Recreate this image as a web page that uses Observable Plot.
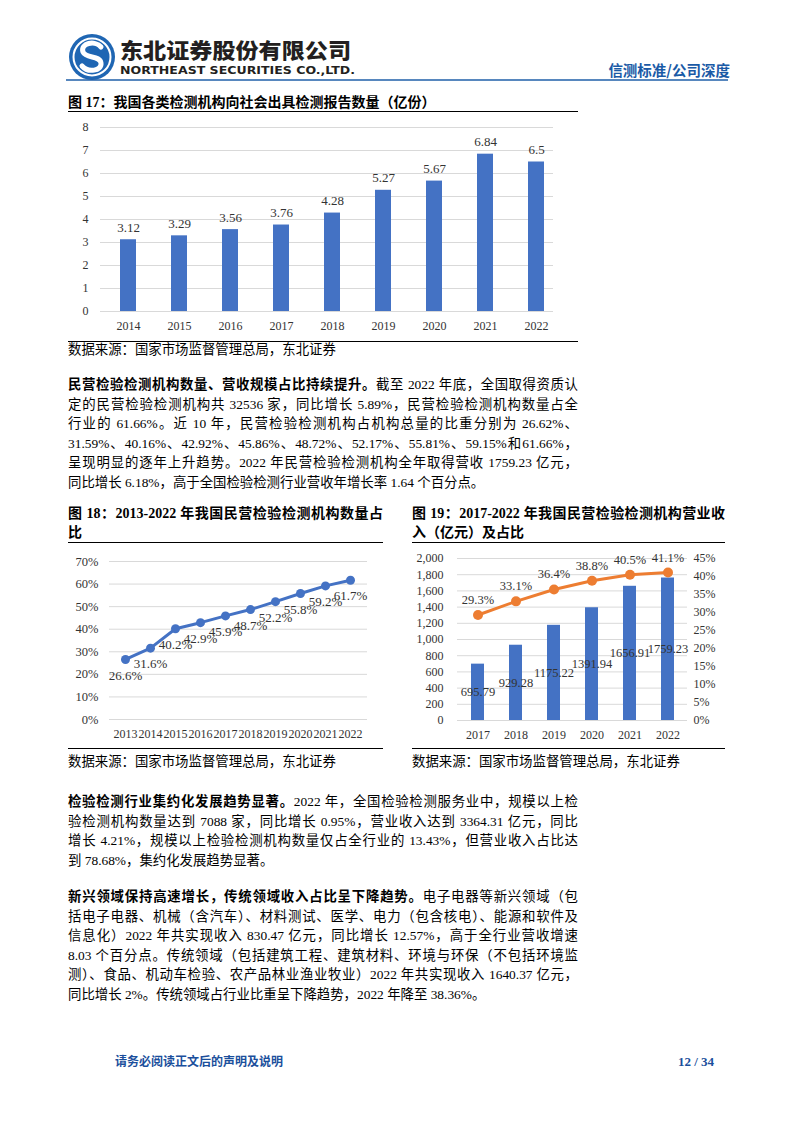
<!DOCTYPE html>
<html lang="zh-CN">
<head>
<meta charset="utf-8">
<script src="https://cdn.jsdelivr.net/npm/d3@7"></script>
<script src="https://cdn.jsdelivr.net/npm/@observablehq/plot@0.6"></script>
<style>
  html, body { margin: 0; padding: 0; background: #fff; }
  #page { position: relative; width: 794px; height: 1123px; overflow: hidden; background: #fff;
          font-family: "Liberation Serif", "Noto Sans CJK SC", serif; color: #000; }
  .abs { position: absolute; }
  .ln { position: absolute; font-size: 13.4px; line-height: 20px; height: 20px; }
  .just { text-align: justify; text-align-last: justify; text-justify: inter-character; }
  .bd { font-family: "Liberation Serif", "Noto Sans CJK SC"; font-weight: 700; }
  .rule { position: absolute; height: 0; border-top: 1px solid #000; }
  .chart { position: absolute; }
</style>
</head>
<body>
<div id="page">
  <svg class="abs" style="left:0;top:0" width="794" height="95">
    <circle cx="92" cy="57" r="23" fill="#1f66b3"/>
    <circle cx="92" cy="57" r="18.5" fill="none" stroke="#fff" stroke-width="2"/>
    <path d="M101 47 C 95 40, 80 43, 83 52 C 86 59, 100 55, 101 63 C 102 71, 88 73, 82 66" fill="none" stroke="#fff" stroke-width="5" stroke-linecap="round"/>
    <text x="120" y="58" font-family="Noto Sans CJK SC" font-weight="900" font-size="21" textLength="231" lengthAdjust="spacingAndGlyphs" fill="#231f20">东北证券股份有限公司</text>
    <text x="120" y="73.5" font-family="DejaVu Sans" font-weight="bold" font-size="10.5" textLength="235" lengthAdjust="spacingAndGlyphs" fill="#231f20">NORTHEAST SECURITIES CO.,LTD.</text>
    <line x1="66" y1="80" x2="728" y2="80" stroke="#1f5fa8" stroke-width="1.5"/>
    <text x="730" y="76" text-anchor="end" font-family="Noto Sans CJK SC" font-weight="700" font-size="14.5" fill="#1a5aa6">信测标准/公司深度</text>
    <line x1="66" y1="1052" x2="727" y2="1052" stroke="#1f5fa8" stroke-width="1.5"/>
  </svg>
</div>
<script>
// ---------------- DATA ----------------
const years17 = ["2014","2015","2016","2017","2018","2019","2020","2021","2022"];
const reports17 = [3.12, 3.29, 3.56, 3.76, 4.28, 5.27, 5.67, 6.84, 6.5];
const yTicks17 = [0,1,2,3,4,5,6,7,8];

const years18 = ["2013","2014","2015","2016","2017","2018","2019","2020","2021","2022"];
const share18 = [0.266, 0.316, 0.402, 0.429, 0.459, 0.487, 0.522, 0.558, 0.592, 0.617];
const yTicks18 = [0, 0.1, 0.2, 0.3, 0.4, 0.5, 0.6, 0.7];

const years19 = ["2017","2018","2019","2020","2021","2022"];
const revenue19 = [695.79, 929.28, 1175.22, 1391.94, 1656.91, 1759.23];
const share19 = [0.293, 0.331, 0.364, 0.388, 0.405, 0.411];
const yTicks19 = [0,200,400,600,800,1000,1200,1400,1600,1800,2000];
const pctTicks19 = [0,0.05,0.10,0.15,0.20,0.25,0.30,0.35,0.40,0.45];
const pctMax19 = 0.45, revMax19 = 2000;

// ---------------- TEXT ----------------
const title17 = "图 17：我国各类检测机构向社会出具检测报告数量（亿份）";
const title18 = ["图 18：2013-2022 年我国民营检验检测机构数量占", "比"];
const title19 = ["图 19：2017-2022 年我国民营检验检测机构营业收", "入（亿元）及占比"];
const sourceText = "数据来源：国家市场监督管理总局，东北证券";
const para1 = [
  ["民营检验检测机构数量、营收规模占比持续提升。", "截至 2022 年底，全国取得资质认"],
  ["", "定的民营检验检测机构共 32536 家，同比增长 5.89%，民营检验检测机构数量占全"],
  ["", "行业的 61.66%。近 10 年，民营检验检测机构占机构总量的比重分别为 26.62%、"],
  ["", "31.59%、40.16%、42.92%、45.86%、48.72%、52.17%、55.81%、59.15%和61.66%，"],
  ["", "呈现明显的逐年上升趋势。2022 年民营检验检测机构全年取得营收 1759.23 亿元，"],
  ["", "同比增长 6.18%，高于全国检验检测行业营收年增长率 1.64 个百分点。"]
];
const para2 = [
  ["检验检测行业集约化发展趋势显著。", "2022 年，全国检验检测服务业中，规模以上检"],
  ["", "验检测机构数量达到 7088 家，同比增长 0.95%，营业收入达到 3364.31 亿元，同比"],
  ["", "增长 4.21%，规模以上检验检测机构数量仅占全行业的 13.43%，但营业收入占比达"],
  ["", "到 78.68%，集约化发展趋势显著。"]
];
const para3 = [
  ["新兴领域保持高速增长，传统领域收入占比呈下降趋势。", "电子电器等新兴领域（包"],
  ["", "括电子电器、机械（含汽车）、材料测试、医学、电力（包含核电）、能源和软件及"],
  ["", "信息化）2022 年共实现收入 830.47 亿元，同比增长 12.57%，高于全行业营收增速"],
  ["", "8.03 个百分点。传统领域（包括建筑工程、建筑材料、环境与环保（不包括环境监"],
  ["", "测）、食品、机动车检验、农产品林业渔业牧业）2022 年共实现收入 1640.37 亿元，"],
  ["", "同比增长 2%。传统领域占行业比重呈下降趋势，2022 年降至 38.36%。"]
];
const footerText = "请务必阅读正文后的声明及说明";
const pageText = "12 / 34";

// ---------------- HELPERS ----------------
const page = document.getElementById("page");
function line(x, cy, w, boldPart, rest, justify, opts = {}) {
  const d = document.createElement("div");
  d.className = "ln" + (justify ? " just" : "");
  d.style.left = x + "px";
  d.style.top = (cy - 10) + "px";
  d.style.width = w + "px";
  if (opts.size) d.style.fontSize = opts.size + "px";
  if (opts.color) d.style.color = opts.color;
  if (opts.align) d.style.textAlign = opts.align;
  if (boldPart) { const b = document.createElement("span"); b.className = "bd"; b.textContent = boldPart; d.appendChild(b); }
  d.appendChild(document.createTextNode(rest));
  page.appendChild(d);
  return d;
}
function rule(x1, x2, y, color = "#000", w = 1) {
  const r = document.createElement("div");
  r.className = "rule";
  r.style.left = x1 + "px"; r.style.top = y + "px"; r.style.width = (x2 - x1) + "px";
  r.style.borderTop = w + "px solid " + color;
  page.appendChild(r);
}
function paragraph(lines, x, y0, w, step) {
  lines.forEach((l, i) => line(x, y0 + i * step, w, l[0], l[1], i < lines.length - 1));
}
function place(svg, left, top) {
  const wrap = document.createElement("div");
  wrap.className = "chart";
  wrap.style.left = left + "px"; wrap.style.top = top + "px";
  wrap.appendChild(svg);
  page.appendChild(wrap);
}
const chartStyle = { fontFamily: '"Liberation Serif", "Times New Roman", serif', fontSize: "12px", color: "#404040", background: "transparent", overflow: "visible" };

// ---------------- CHART 17 ----------------
line(68, 103, 500, title17, "", false, { size: 14 });
rule(68, 578, 111);
const data17 = years17.map((y, i) => ({ year: y, value: reports17[i] }));
const c17 = Plot.plot({
  width: 512, height: 224,
  marginTop: 12, marginBottom: 28, marginLeft: 32, marginRight: 27,
  style: chartStyle,
  x: { domain: years17, range: [32, 495], paddingInner: 0.69, paddingOuter: 0.345, label: null },
  y: { domain: [0, 8], label: null },
  marks: [
    Plot.gridY(yTicks17, { stroke: "#d9d9d9", strokeOpacity: 1 }),
    Plot.barY(data17, { x: "year", y: "value", fill: "#4472c4" }),
    Plot.text(data17, { x: "year", y: "value", text: d => String(d.value), dy: -12, fontSize: 13, fill: "#333" }),
    Plot.axisY({ ticks: yTicks17, tickSize: 0, tickPadding: 12, label: null, fontSize: 12, fill: "#333" }),
    Plot.axisX({ tickSize: 0, tickPadding: 10, label: null, fontSize: 12, fill: "#333" })
  ]
});
place(c17, 68, 115);
rule(68, 578, 341);
line(68, 350, 400, "", sourceText, false);

// ---------------- PARAGRAPH 1 ----------------
paragraph(para1, 68, 385, 510, 19.6);

// ---------------- CHART 18 ----------------
line(68, 514, 315, title18[0], "", true, { size: 14 });
line(68, 533, 315, title18[1], "", false, { size: 14 });
rule(68, 383, 542);
const data18 = years18.map((y, i) => ({ year: y, v: share18[i] }));
const c18 = Plot.plot({
  width: 320, height: 200,
  marginTop: 16, marginBottom: 26, marginLeft: 41, marginRight: 21,
  style: chartStyle,
  x: { type: "point", domain: years18, range: [53, 285], padding: 0, label: null },
  y: { domain: [0, 0.7], label: null },
  marks: [
    Plot.gridY(yTicks18, { stroke: "#d9d9d9", strokeOpacity: 1 }),
    Plot.line(data18, { x: "year", y: "v", stroke: "#4472c4", strokeWidth: 3 }),
    Plot.dot(data18, { x: "year", y: "v", r: 4.5, fill: "#4472c4", stroke: "none" }),
    Plot.text(data18, { x: "year", y: "v", text: d => (d.v * 100).toFixed(1) + "%", dy: 16, fontSize: 13, fill: "#333" }),
    Plot.axisY({ ticks: yTicks18, tickFormat: d => Math.round(d * 100) + "%", tickSize: 0, tickPadding: 11, label: null, fontSize: 12.5, fill: "#333" }),
    Plot.axisX({ tickSize: 0, tickPadding: 10, label: null, fontSize: 12, fill: "#333" })
  ]
});
place(c18, 68, 545);
rule(68, 383, 748);
line(68, 762, 320, "", sourceText, false);

// ---------------- CHART 19 ----------------
line(412, 514, 313, title19[0], "", true, { size: 14 });
line(412, 533, 313, title19[1], "", false, { size: 14 });
rule(412, 725, 542);
const data19 = years19.map((y, i) => ({ year: y, rev: revenue19[i], share: share19[i] }));
const toRev = p => p / pctMax19 * revMax19;
const c19 = Plot.plot({
  width: 320, height: 200,
  marginTop: 13, marginBottom: 25, marginLeft: 45, marginRight: 45,
  style: chartStyle,
  x: { domain: years19, paddingInner: 0.66, paddingOuter: 0.33, label: null },
  y: { domain: [0, revMax19], label: null },
  marks: [
    Plot.gridY(yTicks19, { stroke: "#d9d9d9", strokeOpacity: 1 }),
    Plot.barY(data19, { x: "year", y: "rev", fill: "#4472c4" }),
    Plot.line(data19, { x: "year", y: d => toRev(d.share), stroke: "#ed7d31", strokeWidth: 3 }),
    Plot.dot(data19, { x: "year", y: d => toRev(d.share), r: 5, fill: "#ed7d31", stroke: "none" }),
    Plot.text(data19, { x: "year", y: d => d.rev / 2, text: d => d.rev.toFixed(2), fontSize: 12.5, fill: "#333" }),
    Plot.text(data19, { x: "year", y: d => toRev(d.share), text: d => (d.share * 100).toFixed(1) + "%", dy: -15, fontSize: 12.5, fill: "#333" }),
    Plot.axisY({ ticks: yTicks19, tickFormat: d3.format(","), tickSize: 0, tickPadding: 14, label: null, fontSize: 12, fill: "#333" }),
    Plot.axisY({ anchor: "right", ticks: pctTicks19.map(toRev), tickFormat: v => Math.round(v / revMax19 * pctMax19 * 100) + "%", tickSize: 0, tickPadding: 6, label: null, fontSize: 12, fill: "#333" }),
    Plot.axisX({ tickSize: 0, tickPadding: 10, label: null, fontSize: 12, fill: "#333" })
  ]
});
place(c19, 412, 545);
rule(412, 725, 748);
line(412, 762, 320, "", sourceText, false);

// ---------------- PARAGRAPHS 2,3 ----------------
paragraph(para2, 68, 802, 510, 19.6);
paragraph(para3, 68, 897, 510, 19.6);

// ---------------- FOOTER ----------------
line(115, 1062, 250, footerText, "", false, { size: 12, color: "#1b4f9c" });
line(600, 1062, 114, pageText, "", false, { size: 13, color: "#1b4f9c", align: "right" });
</script>
</body>
</html>
